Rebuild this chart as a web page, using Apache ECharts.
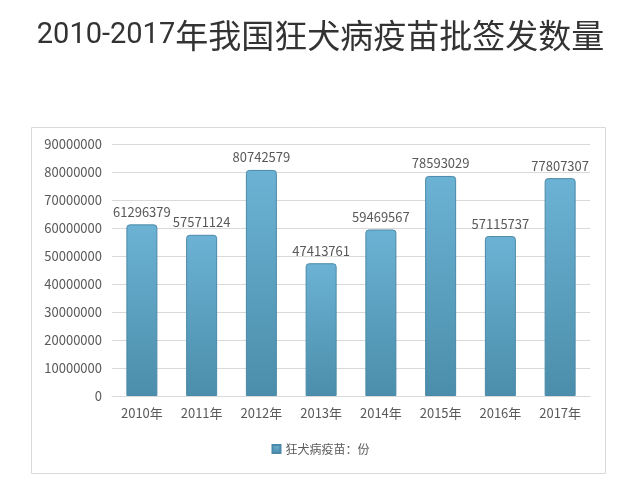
<!DOCTYPE html>
<html><head><meta charset="utf-8">
<script src="https://cdn.jsdelivr.net/npm/echarts@6/dist/echarts.min.js"></script>
<style>html,body{margin:0;padding:0;background:#fff}#c{width:641px;height:498px}</style>
</head><body><div id="c"></div>
<script>
const categories = ['2010年','2011年','2012年','2013年','2014年','2015年','2016年','2017年'];
const values = [61296379,57571124,80742579,47413761,59469567,78593029,57115737,77807307];
const seriesName = '狂犬病疫苗：份';
const titleText = '2010-2017年我国狂犬病疫苗批签发数量';

const chart = echarts.init(document.getElementById('c'));
chart.setOption({
  animation:false,
  backgroundColor:'#fff',
  title:{
    text:'{a|2010-2017}{b|' + titleText.slice(9) + '}',
    left:'center', top:14,
    textStyle:{rich:{
      a:{fontSize:29,color:'#333',fontWeight:'normal',fontFamily:'Roboto, Noto Sans CJK SC'},
      b:{fontSize:33,color:'#333',fontWeight:'normal',fontFamily:'Noto Sans CJK SC'}
    }}
  },
  graphic:[{type:'rect',shape:{x:31.5,y:127.5,width:574,height:346},style:{fill:'none',stroke:'#d9d9d9',lineWidth:1}}],
  legend:{
    bottom:38, left:'center', itemWidth:8, itemHeight:8, icon:'rect',
    textStyle:{fontSize:12,color:'#595959',fontFamily:'Noto Sans CJK SC'}
  },
  grid:{left:112,right:51,top:144,bottom:102},
  xAxis:{type:'category',data:categories,
    axisLine:{lineStyle:{color:'#d9d9d9'}},axisTick:{show:false},
    axisLabel:{color:'#595959',fontSize:13,margin:11,fontFamily:'Noto Sans CJK SC'}},
  yAxis:{type:'value',min:0,max:90000000,interval:10000000,
    axisLine:{show:false},axisTick:{show:false},
    splitLine:{lineStyle:{color:'#d9d9d9'}},
    axisLabel:{color:'#595959',fontSize:13,margin:10,fontFamily:'Noto Sans CJK SC',formatter:v=>String(v)}},
  series:[{
    name:seriesName,type:'bar',data:values,barWidth:31,
    itemStyle:{
      color:new echarts.graphic.LinearGradient(0,0,0,1,[{offset:0,color:'#6cb2d4'},{offset:1,color:'#4b8eab'}]),
      borderColor:'#4a89a8',borderWidth:1,borderRadius:[3,3,0,0]
    },
    label:{show:true,position:'top',distance:6,color:'#595959',fontSize:13,fontFamily:'Noto Sans CJK SC'}
  }]
});
</script></body></html>
